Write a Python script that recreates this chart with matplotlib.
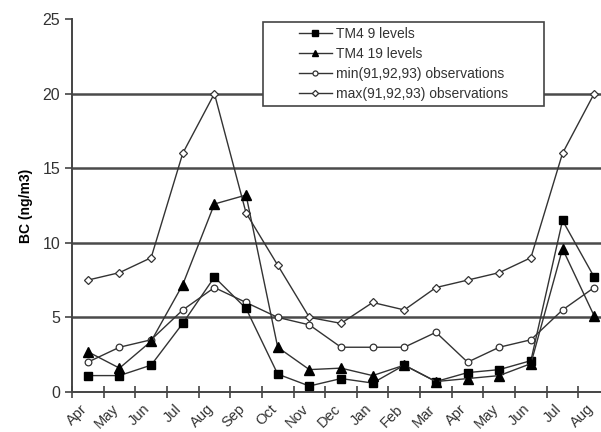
import numpy as np
import matplotlib.pyplot as plt
import matplotlib.transforms as mtransforms
from matplotlib.patches import Rectangle

months = ["Apr", "May", "Jun", "Jul", "Aug", "Sep", "Oct", "Nov", "Dec",
          "Jan", "Feb", "Mar", "Apr", "May", "Jun", "Jul", "Aug"]

tm4_9 = [1.1, 1.1, 1.8, 4.6, 7.7, 5.6, 1.2, 0.4, 0.9, 0.6, 1.8, 0.7,
         1.3, 1.5, 2.1, 11.5, 7.7]
tm4_19 = [2.7, 1.6, 3.4, 7.2, 12.6, 13.2, 3.0, 1.5, 1.6, 1.1, 1.8, 0.7,
          0.9, 1.1, 1.9, 9.6, 5.1]
obs_min = [2.0, 3.0, 3.5, 5.5, 7.0, 6.0, 5.0, 4.5, 3.0, 3.0, 3.0, 4.0,
           2.0, 3.0, 3.5, 5.5, 7.0]
obs_max = [7.5, 8.0, 9.0, 16.0, 20.0, 12.0, 8.5, 5.0, 4.6, 6.0, 5.5, 7.0,
           7.5, 8.0, 9.0, 16.0, 20.0]

plt.rcParams['font.family'] = ['Liberation Sans', 'DejaVu Sans']

W, H = 601, 432
fig = plt.figure(figsize=(W / 100, H / 100), dpi=100)
# the plot area runs a bit past the right edge of the picture
ax = fig.add_axes([72 / W, 40 / H, (610 - 72) / W, (392 - 19) / H])

x = np.arange(len(months)) + 0.5
lc = '#333333'
ax.plot(x, tm4_9, color=lc, lw=1.0, marker='s', ms=6, mfc='black', mec='black',
        label='TM4 9 levels', zorder=5)
ax.plot(x, tm4_19, color=lc, lw=1.0, marker='^', ms=6.5, mfc='black', mec='black',
        label='TM4 19 levels', zorder=5)
ax.plot(x, obs_min, color=lc, lw=1.0, marker='o', ms=4.8, mfc='white', mec=lc,
        mew=0.9, label='min(91,92,93) observations', zorder=4)
ax.plot(x, obs_max, color=lc, lw=1.0, marker='D', ms=4.2, mfc='white', mec=lc,
        mew=0.9, label='max(91,92,93) observations', zorder=4)

ax.set_xlim(0, len(months))
ax.set_ylim(0, 25)
ax.set_yticks(range(0, 26, 5))
for v in range(5, 25, 5):
    ax.axhline(v, color='#4a4a4a', lw=1.8, zorder=1)

ax.set_xticks(np.arange(len(months) + 1))
ax.set_xticklabels([])
ax.set_xticks(x, minor=True)
ax.set_xticklabels(months, minor=True, rotation=45, ha='right', va='top',
                   rotation_mode='anchor', fontsize=10.5, color='#333333')
ax.tick_params(axis='x', which='minor', length=0, pad=5)
ax.tick_params(axis='x', which='major', direction='inout', length=8, width=1.2,
               color='#444444')
ax.tick_params(axis='y', direction='out', length=5, width=1.2, color='#444444',
               labelsize=11.5, labelcolor='#333333')
# nudge the month labels a little left/down like the original
shift = mtransforms.ScaledTranslation(-8 / 100, -3 / 100, fig.dpi_scale_trans)
for lab in ax.get_xticklabels(minor=True):
    lab.set_transform(lab.get_transform() + shift)

for s in ['top', 'right']:
    ax.spines[s].set_visible(False)
for s in ['left', 'bottom']:
    ax.spines[s].set_linewidth(1.4)
    ax.spines[s].set_color('#444444')

ax.set_ylabel('BC (ng/m3)', fontsize=10, fontweight='bold', labelpad=7)

# legend box drawn separately, the entries sit centred in it
box = Rectangle((263 / W, 1 - 106 / H), (544 - 263) / W, (106 - 22) / H,
                transform=fig.transFigure, facecolor='white', edgecolor='#444444',
                lw=1.2, zorder=9, clip_on=False)
ax.add_patch(box)
leg = ax.legend(loc='center', bbox_to_anchor=(403.5 / W, 1 - 64 / H),
                bbox_transform=fig.transFigure, fontsize=10, frameon=False,
                handlelength=2.4, labelspacing=0.42, handletextpad=0.3,
                markerscale=0.75)
for t in leg.get_texts():
    t.set_color('#333333')
leg.set_zorder(10)

fig.savefig('out.png', dpi=100)
